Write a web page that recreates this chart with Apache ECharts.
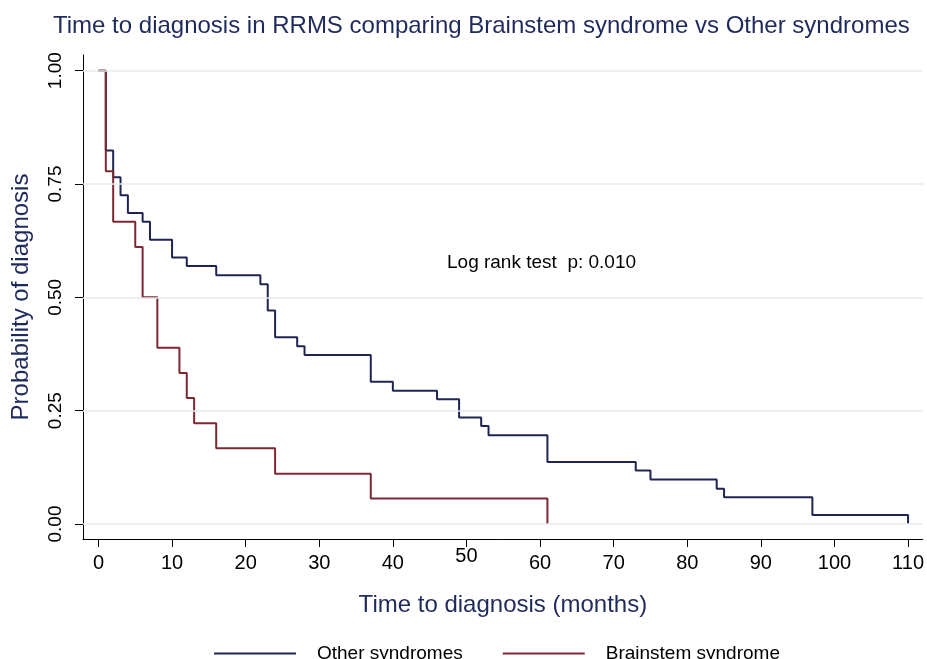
<!DOCTYPE html>
<html>
<head>
<meta charset="utf-8">
<script src="https://cdn.jsdelivr.net/npm/echarts@6/dist/echarts.min.js"></script>
<style>html,body{margin:0;padding:0;background:#fff}#c{width:927px;height:659px}</style>
</head>
<body>
<div id="c"></div>
<script>
const otherTimes = [0,1,2,3,4,6,7,10,12,16,22,23,24,27,28,37,40,46,49,52,53,61,73,75,84,85,97,110];
const otherSurv  = [1,0.824,0.765,0.725,0.686,0.667,0.627,0.588,0.569,0.549,0.529,0.471,0.412,0.392,0.373,0.314,0.294,0.275,0.235,0.216,0.196,0.137,0.118,0.098,0.078,0.059,0.020,0];
const brainTimes = [0,1,2,5,6,8,11,12,13,16,24,37,61];
const brainSurv  = [1,0.778,0.667,0.611,0.5,0.389,0.333,0.278,0.222,0.167,0.111,0.056,0];
const xTicks = [0,10,20,30,40,50,60,70,80,90,100,110];
const xRaisedTick = [50];
const yTicks = [0,0.25,0.5,0.75,1];
const seriesNames = ['Other syndromes','Brainstem syndrome'];
const titleText = 'Time to diagnosis in RRMS comparing Brainstem syndrome vs Other syndromes';
const xTitle = 'Time to diagnosis (months)';
const yTitle = 'Probability of diagnosis';
const annotation = 'Log rank test  p: 0.010';

const NAVY = '#1f2553', MAROON = '#7d2830', TXT = '#1e2a5c';
const FONT = 'Liberation Sans';
const pairs = (t, s) => t.map((v, i) => [v, s[i]]);
const X_MIN = -2.1, X_MAX = 112;

const chart = echarts.init(document.getElementById('c'), null, {renderer: 'canvas'});
chart.setOption({
  animation: false,
  backgroundColor: '#fff',
  title: {
    text: titleText, left: 48, top: 9,
    textStyle: {fontFamily: FONT, fontSize: 24, fontWeight: 'normal', color: TXT}
  },
  grid: {left: 83, right: 4, top: 55, bottom: 120, containLabel: false},
  xAxis: [{
    type: 'value', min: X_MIN, max: X_MAX,
    name: xTitle, nameLocation: 'middle', nameGap: 54,
    nameTextStyle: {fontFamily: FONT, fontSize: 24, color: TXT},
    axisLine: {show: true, onZero: false, lineStyle: {color: '#000', width: 1}},
    axisTick: {show: true, customValues: xTicks, length: 8, lineStyle: {color: '#000'}},
    axisLabel: {customValues: xTicks.filter(v => !xRaisedTick.includes(v)), margin: 14,
      fontFamily: FONT, fontSize: 20, color: '#000'},
    splitLine: {show: false}
  }, {
    type: 'value', min: X_MIN, max: X_MAX, position: 'bottom', gridIndex: 0,
    axisLine: {show: false}, axisTick: {show: false}, splitLine: {show: false},
    axisLabel: {customValues: xRaisedTick, margin: 7, fontFamily: FONT, fontSize: 20, color: '#000'}
  }],
  yAxis: {
    type: 'value', min: -0.0331, max: 1.0346,
    name: yTitle, nameLocation: 'middle', nameGap: 50,
    nameTextStyle: {fontFamily: FONT, fontSize: 24, color: TXT},
    axisLine: {show: true, onZero: false, lineStyle: {color: '#000', width: 1}},
    axisTick: {show: true, customValues: yTicks, length: 8, lineStyle: {color: '#000'}},
    axisLabel: {customValues: yTicks, rotate: 90, margin: 18, fontFamily: FONT, fontSize: 19, color: '#000',
      formatter: v => v.toFixed(2)},
    splitLine: {show: false}
  },
  legend: {
    data: seriesNames, left: 209, top: 639, itemGap: 40,
    icon: 'rect', itemWidth: 82, itemHeight: 2,
    textStyle: {fontFamily: FONT, fontSize: 19, color: '#000', padding: [0,0,0,16]}
  },
  graphic: [{
    type: 'text', left: 447, top: 253,
    style: {text: annotation, fontFamily: FONT, fontSize: 19, fill: '#000'}
  }],
  series: [
    {
      type: 'line', name: '__grid', data: [], silent: true, z: 1,
      markLine: {
        silent: true, symbol: 'none', label: {show: false},
        lineStyle: {color: '#e4ebf1', width: 1.5, type: 'solid'},
        data: yTicks.map(v => ({yAxis: v}))
      }
    },
    {
      type: 'line', name: seriesNames[0], step: 'end', showSymbol: false, z: 3,
      data: pairs(otherTimes, otherSurv),
      lineStyle: {color: NAVY, width: 2}, itemStyle: {color: NAVY}
    },
    {
      type: 'line', name: seriesNames[1], step: 'end', showSymbol: false, z: 4,
      data: pairs(brainTimes, brainSurv),
      lineStyle: {color: MAROON, width: 2}, itemStyle: {color: MAROON}
    }
  ]
});
</script>
</body>
</html>
